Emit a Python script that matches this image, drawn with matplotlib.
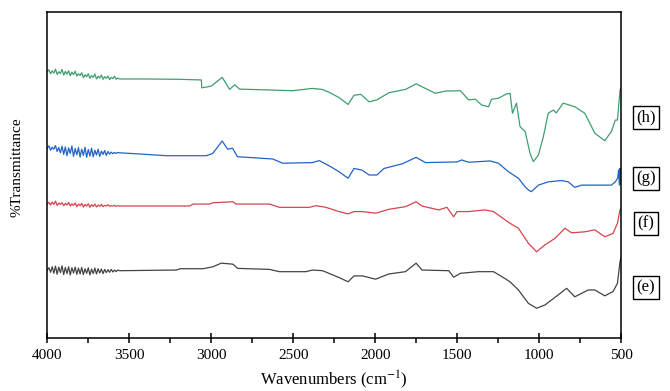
import matplotlib
matplotlib.use("Agg")
import matplotlib.pyplot as plt
from matplotlib.ticker import MultipleLocator

# noisy region 4000-3560 cm-1, sampled every 10 cm-1
wn_noise = list(range(4000, 3555, -10))

noise_h = [81.6, 82.2, 81.0, 81.9, 81.2, 82.4, 80.8, 81.6, 81.1, 82.3,
           80.6, 81.7, 80.9, 81.9, 80.4, 81.5, 80.7, 81.8, 80.3, 81.0,
           80.5, 81.3, 79.8, 80.7, 80.1, 81.0, 79.6, 80.4, 79.9, 80.9,
           79.4, 80.2, 79.7, 80.6, 79.3, 80.1, 79.6, 80.3, 79.2, 79.9,
           79.5, 80.2, 79.3, 79.7, 79.4]
noise_g = [58.2, 58.9, 57.6, 58.5, 57.9, 59.0, 57.2, 58.4, 56.8, 58.8,
           56.3, 58.6, 55.9, 58.3, 56.6, 58.9, 55.7, 58.1, 56.2, 58.4,
           55.5, 57.9, 56.0, 58.5, 55.4, 57.8, 55.8, 58.2, 55.6, 57.6,
           56.1, 57.9, 55.7, 57.3, 56.3, 57.5, 56.0, 57.2, 56.4, 57.0,
           56.5, 56.9, 56.6, 56.9, 56.8]
noise_f = [41.1, 41.6, 40.8, 41.7, 41.0, 42.0, 40.7, 41.4, 41.0, 41.5,
           40.6, 41.3, 40.8, 41.6, 40.5, 41.2, 40.7, 41.4, 40.3, 41.1,
           40.6, 41.3, 40.2, 41.0, 40.5, 41.2, 40.1, 40.9, 40.4, 41.1,
           40.2, 40.8, 40.4, 41.0, 40.3, 40.7, 40.5, 40.9, 40.4, 40.6,
           40.5, 40.7, 40.4, 40.6, 40.5]
noise_e = [20.9, 21.6, 20.2, 21.9, 19.9, 22.1, 19.6, 21.8, 20.1, 22.2,
           19.5, 21.7, 19.8, 21.9, 19.4, 21.6, 20.0, 21.8, 19.6, 21.5,
           19.7, 21.7, 19.5, 21.3, 19.9, 21.6, 19.4, 21.2, 19.8, 21.5,
           19.7, 21.3, 20.0, 21.2, 19.8, 21.1, 20.1, 21.0, 20.2, 21.1,
           20.3, 20.9, 20.4, 20.9, 20.7]

# rest of each spectrum, 3550-500 cm-1
wn_h = [3400, 3200, 3060, 3058, 3000, 2933, 2888, 2857, 2827, 2627, 2505, 2384, 2323, 2280,
        2220, 2165, 2129, 2088, 2037, 1989, 1916, 1815, 1750, 1693, 1632, 1571, 1480, 1430,
        1389, 1350, 1308, 1290, 1248, 1199, 1177, 1162, 1138, 1116, 1085, 1055, 1035, 1004,
        974, 944, 913, 895, 853, 782, 721, 660, 599, 559, 535, 522, 506, 500]
t_h = [79.4, 79.3, 79.1, 76.7, 77.2, 79.9, 76.2, 77.6, 76.3, 76.0, 75.8, 76.5, 76.2, 75.3,
       73.7, 71.6, 74.4, 74.7, 72.4, 73.0, 75.2, 76.2, 77.9, 76.5, 75.0, 75.7, 75.8, 73.0,
       73.2, 71.4, 70.9, 73.2, 73.5, 74.8, 75.0, 68.9, 72.0, 64.8, 63.3, 56.6, 54.1, 56.1,
       61.7, 68.9, 69.9, 69.0, 72.0, 70.9, 68.9, 62.8, 60.5, 63.3, 66.8, 66.8, 76.0, 76.6]

wn_g = [3395, 3273, 3030, 2991, 2933, 2900, 2870, 2840, 2625, 2564, 2382, 2341, 2280, 2220,
        2165, 2129, 2080, 2037, 1989, 1946, 1836, 1750, 1693, 1500, 1472, 1430, 1298, 1248,
        1187, 1126, 1085, 1065, 1047, 1004, 944, 863, 822, 782, 741, 660, 559, 535, 520, 515,
        510, 507, 504, 502, 500]
t_g = [56.3, 55.9, 55.9, 56.6, 60.4, 57.9, 58.2, 55.6, 54.9, 53.6, 53.8, 54.4, 52.8, 51.0,
       49.0, 52.0, 51.5, 50.0, 50.0, 52.0, 53.4, 55.4, 53.8, 54.0, 54.6, 53.9, 54.3, 53.6,
       51.0, 49.0, 46.4, 45.4, 44.9, 46.9, 47.9, 48.3, 47.9, 46.2, 46.9, 46.9, 46.9, 47.9,
       49.1, 51.5, 46.9, 52.0, 47.4, 52.0, 49.3]

wn_f = [3546, 3131, 3111, 3010, 2990, 2868, 2848, 2645, 2584, 2402, 2361, 2301, 2220, 2165,
        2129, 2078, 1997, 1916, 1815, 1750, 1714, 1612, 1562, 1521, 1501, 1430, 1329, 1278,
        1228, 1177, 1126, 1065, 1015, 964, 903, 842, 802, 721, 660, 599, 549, 522, 506, 500]
t_f = [40.5, 40.5, 41.1, 41.1, 41.5, 41.8, 41.1, 41.1, 40.1, 40.1, 40.6, 40.1, 38.8, 38.1,
       38.8, 38.8, 38.3, 39.5, 40.3, 41.8, 40.5, 39.3, 40.1, 37.2, 38.8, 38.8, 39.3, 38.8,
       37.0, 35.2, 33.7, 29.1, 26.5, 28.6, 30.6, 33.7, 32.3, 32.6, 33.2, 31.1, 32.1, 35.2,
       39.3, 39.9]

wn_e = [3550, 3212, 3190, 3050, 2990, 2939, 2868, 2838, 2645, 2584, 2422, 2382, 2321, 2220,
        2165, 2129, 2078, 1997, 1916, 1815, 1750, 1714, 1551, 1521, 1480, 1369, 1278, 1228,
        1177, 1126, 1065, 1015, 964, 883, 832, 782, 700, 660, 599, 549, 522, 506, 500]
t_e = [20.7, 20.9, 21.3, 21.3, 21.9, 23.0, 22.7, 21.4, 21.1, 20.4, 20.4, 20.9, 20.7, 18.6,
       17.3, 19.1, 19.1, 18.1, 19.7, 20.4, 23.0, 20.9, 20.7, 18.7, 19.9, 20.4, 20.4, 18.9,
       17.3, 14.8, 10.7, 9.2, 10.2, 13.3, 15.3, 12.7, 14.8, 14.8, 13.0, 14.3, 16.8, 23.5, 24.6]

labels = ["(h)", "(g)", "(f)", "(e)"]
colors = ["#3f9e6e", "#2263c6", "#d8434c", "#444444"]

plt.rcParams['font.family'] = ['Liberation Serif', 'DejaVu Serif']
plt.rcParams['mathtext.fontset'] = 'stix'

fig = plt.figure(figsize=(6.7, 3.91), dpi=100)
ax = fig.add_axes([0.0706, 0.1348, 0.8563, 0.8353])

series = [(noise_h, wn_h, t_h), (noise_g, wn_g, t_g),
          (noise_f, wn_f, t_f), (noise_e, wn_e, t_e)]
for (nz, wn, t), c in zip(series, colors):
    ax.plot(wn_noise + wn, nz + t, color=c, lw=0.9)

ax.set_xlim(4000, 500)
ax.set_ylim(0, 100)
ax.xaxis.set_major_locator(MultipleLocator(500))
ax.xaxis.set_minor_locator(MultipleLocator(250))
ax.tick_params(axis='x', which='major', direction='inout', length=7, width=1.1,
               labelsize=11, pad=4)
ax.tick_params(axis='x', which='minor', direction='out', length=3.5, width=1.1)
ax.set_yticks([])
for s in ax.spines.values():
    s.set_linewidth(1.1)

ax.set_xlabel("Wavenumbers (cm$^{-1}$)", fontsize=12, labelpad=5)
fig.text(0.026, 0.572, "%Transmittance", rotation=90, fontsize=11,
         ha='center', va='center')

label_y = [0.6995, 0.5435, 0.4284, 0.2647]
for lab, y in zip(labels, label_y):
    fig.text(0.964, y, lab, fontsize=12, ha='center', va='center',
             bbox=dict(boxstyle='square,pad=0.2', fc='white', ec='black', lw=1.0))

fig.savefig("out.png", dpi=100)
